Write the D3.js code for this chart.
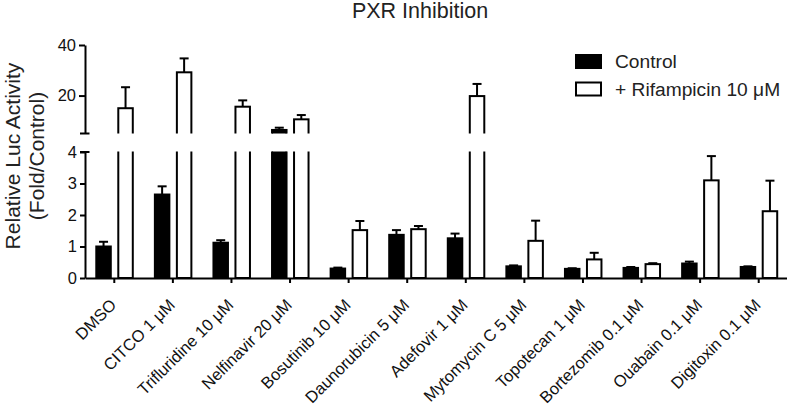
<!DOCTYPE html>
<html>
<head>
<meta charset="utf-8">
<script src="https://cdn.jsdelivr.net/npm/d3@7"></script>
<style>
  html, body { margin: 0; padding: 0; background: #fff; }
  svg { display: block; font-family: "Liberation Sans", Arial, Helvetica, sans-serif; }
</style>
</head>
<body>
<svg id="chart" width="787" height="408"></svg>
<script>
const categories = ["DMSO", "CITCO 1 \u03bcM", "Trifluridine 10 \u03bcM", "Nelfinavir 20 \u03bcM",
  "Bosutinib 10 \u03bcM", "Daunorubicin 5 \u03bcM", "Adefovir 1 \u03bcM", "Mytomycin C 5 \u03bcM",
  "Topotecan 1 \u03bcM", "Bortezomib 0.1 \u03bcM", "Ouabain 0.1 \u03bcM", "Digitoxin 0.1 \u03bcM"];
const controlValues = [1.0, 2.65, 1.12, 6.4, 0.3, 1.37, 1.26, 0.37, 0.29, 0.32, 0.46, 0.35];
const controlErrors = [0.15, 0.26, 0.08, 0.9, 0.03, 0.15, 0.15, 0.03, 0.02, 0.03, 0.06, 0.02];
const rifValues = [15.0, 29.2, 15.6, 10.6, 1.52, 1.55, 19.8, 1.18, 0.59, 0.44, 3.1, 2.12];
const rifErrors = [8.3, 5.5, 2.5, 1.7, 0.29, 0.1, 4.8, 0.64, 0.21, 0.03, 0.77, 0.97];
const lowerTicks = [0, 1, 2, 3, 4];
const upperTicks = [20, 40];
const seriesNames = ["Control", "+ Rifampicin 10 \u03bcM"];
const title = "PXR Inhibition";
const yLabelLines = ["Relative Luc Activity", "(Fold/Control)"];

const svg = d3.select("#chart");
const axisX = 85;
const x = d3.scaleBand().domain(categories).range([axisX, 788]).paddingInner(0).paddingOuter(0);
const yLow = d3.scaleLinear().domain([0, 4]).range([278, 152]);
const yHigh = d3.scaleLinear().domain([5, 40]).range([133.5, 45]);
const breakLow = 4, breakHigh = 5;

const defs = svg.append("defs");
defs.append("clipPath").attr("id", "clipLow").append("rect")
  .attr("x", axisX).attr("y", 151.5).attr("width", 720).attr("height", 130);
defs.append("clipPath").attr("id", "clipHigh").append("rect")
  .attr("x", axisX).attr("y", 20).attr("width", 720).attr("height", 113.5);

const barW = 16.5;
const series = [
  { vals: controlValues, errs: controlErrors, off: -19, fill: "#000" },
  { vals: rifValues, errs: rifErrors, off: 3, fill: "#fff" }
];

const gLow = svg.append("g").attr("clip-path", "url(#clipLow)");
const gHigh = svg.append("g").attr("clip-path", "url(#clipHigh)");
const gErr = svg.append("g");

series.forEach(s => {
  const data = categories.map((c, i) => ({ c, v: s.vals[i], e: s.errs[i] }));
  gLow.selectAll(null).data(data).join("rect")
    .attr("x", d => x(d.c) + x.bandwidth() / 2 + s.off + 1)
    .attr("width", barW - 2)
    .attr("y", d => yLow(Math.min(d.v, breakLow + 0.3)))
    .attr("height", d => yLow(0) - yLow(Math.min(d.v, breakLow + 0.3)))
    .attr("fill", s.fill).attr("stroke", "#000").attr("stroke-width", 2);
  gHigh.selectAll(null).data(data.filter(d => d.v > breakHigh)).join("rect")
    .attr("x", d => x(d.c) + x.bandwidth() / 2 + s.off + 1)
    .attr("width", barW - 2)
    .attr("y", d => yHigh(d.v))
    .attr("height", d => yHigh(breakHigh - 2) - yHigh(d.v))
    .attr("fill", s.fill).attr("stroke", "#000").attr("stroke-width", 2);
  data.forEach(d => {
    const sc = d.v > breakHigh ? yHigh : yLow;
    const cx = x(d.c) + x.bandwidth() / 2 + s.off + barW / 2;
    const y0 = sc(d.v), y1 = sc(d.v + d.e);
    gErr.append("line").attr("x1", cx).attr("x2", cx).attr("y1", y0).attr("y2", y1)
      .attr("stroke", "#000").attr("stroke-width", 2);
    gErr.append("line").attr("x1", cx - 4.5).attr("x2", cx + 4.5).attr("y1", y1).attr("y2", y1)
      .attr("stroke", "#000").attr("stroke-width", 2);
  });
});

const tickFont = "'Liberation Sans', Arial, sans-serif";
const axLow = svg.append("g").attr("transform", `translate(${axisX},0)`)
  .call(d3.axisLeft(yLow).tickValues(lowerTicks).tickSize(5).tickSizeOuter(0).tickPadding(3).tickFormat(d3.format("d")));
const axHigh = svg.append("g").attr("transform", `translate(${axisX},0)`)
  .call(d3.axisLeft(yHigh).tickValues(upperTicks).tickSize(6).tickSizeOuter(0).tickPadding(3).tickFormat(d3.format("d")));
[axLow, axHigh].forEach(a => {
  a.selectAll("path, line").attr("stroke", "#000").attr("stroke-width", 2);
  a.selectAll("text").attr("font-size", 16.5).attr("fill", "#111").attr("font-family", tickFont);
});
svg.append("line").attr("x1", axisX - 5).attr("x2", axisX + 4.5)
  .attr("y1", yHigh(breakHigh)).attr("y2", yHigh(breakHigh)).attr("stroke", "#000").attr("stroke-width", 2);
svg.append("line").attr("x1", axisX - 5).attr("x2", axisX + 4.5)
  .attr("y1", yLow(breakLow)).attr("y2", yLow(breakLow)).attr("stroke", "#000").attr("stroke-width", 2);

const axB = svg.append("g").attr("transform", `translate(0,${yLow(0)})`)
  .call(d3.axisBottom(x).tickSize(5).tickSizeOuter(0));
axB.select(".domain").attr("stroke", "#000").attr("stroke-width", 2);
axB.selectAll("line").attr("stroke", "#000").attr("stroke-width", 2);
axB.selectAll("text")
  .attr("font-size", 16.5).attr("fill", "#111").attr("font-family", tickFont)
  .attr("text-anchor", "end")
  .attr("dy", 0).attr("y", 0)
  .attr("transform", "translate(3,28) rotate(-45)");

svg.append("text").attr("x", 420).attr("y", 17.5).attr("text-anchor", "middle")
  .attr("font-size", 21.5).attr("fill", "#222").text(title);

const yl = svg.append("text").attr("transform", "translate(0,156) rotate(-90)")
  .attr("text-anchor", "middle").attr("font-size", 21).attr("fill", "#222");
yl.append("tspan").attr("x", 0).attr("y", 19.5).text(yLabelLines[0]);
yl.append("tspan").attr("x", 0).attr("y", 43.5).text(yLabelLines[1]);

const legend = svg.append("g");
const legFills = ["#000", "#fff"];
seriesNames.forEach((n, i) => {
  const cy = 61.5 + i * 27.5;
  legend.append("rect").attr("x", 576).attr("y", cy - 6.5).attr("width", 25).attr("height", 13)
    .attr("fill", legFills[i]).attr("stroke", "#000").attr("stroke-width", 2);
  legend.append("text").attr("x", 615).attr("y", cy + 6.5).attr("font-size", 19.2).attr("fill", "#222").text(n);
});
</script>
</body>
</html>
